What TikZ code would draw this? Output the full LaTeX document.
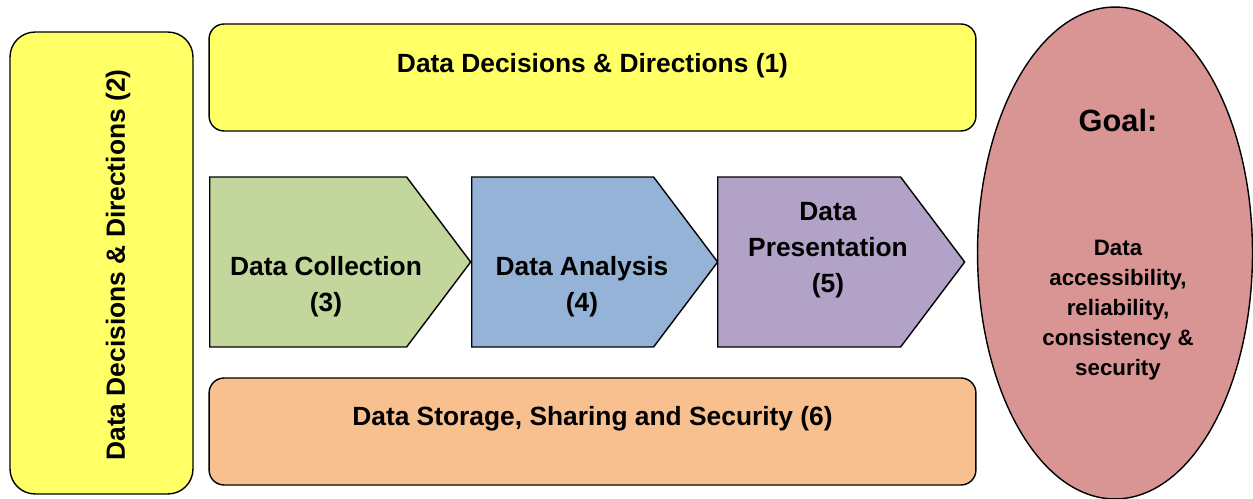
\documentclass[tikz,border=0pt]{standalone}
\usepackage{fontspec}
\setmainfont{Liberation Sans}
\usetikzlibrary{shapes.geometric,shapes.symbols}

\definecolor{ddyellow}{HTML}{FFFF66}
\definecolor{ddorange}{HTML}{F9C08F}
\definecolor{ddgreen}{HTML}{C3D69B}
\definecolor{ddblue}{HTML}{95B3D7}
\definecolor{ddpurple}{HTML}{B2A2C7}
\definecolor{ddred}{HTML}{D99594}

\begin{document}
\begin{tikzpicture}[x=0.02cm,y=-0.02cm,line width=0.8pt]
    % `panel' is used for the rounded boxes round the process.
    % `stage' is used for the three process arrows.
    % `txt' is used for all the bold captions.
    \tikzstyle{panel} = [draw,rounded corners=3mm,inner sep=0pt]
    \tikzstyle{stage} = [draw,shape=signal,signal to=east,signal pointer angle=106,inner sep=0pt,minimum height=3.4cm,anchor=west]
    \tikzstyle{txt} = [font=\bfseries\fontsize{15}{20.4}\selectfont,align=center]
    %
    \useasboundingbox (0,0) rectangle (1253,499);

    % Side and horizontal panels.
    \node[panel,fill=ddyellow,rounded corners=5mm,minimum width=3.66cm,minimum height=9.24cm] (side) at (101.5,263) {};
    \node[txt,rotate=90] (sidetext) at (118,265) {Data Decisions \& Directions (2)};
    \node[panel,fill=ddyellow,minimum width=15.34cm,minimum height=2.14cm] (top) at (592.5,77.5) {};
    \node[txt] (toptext) at (592.5,66) {Data Decisions \& Directions (1)};
    \node[panel,fill=ddorange,minimum width=15.34cm,minimum height=2.14cm] (bottom) at (592.5,431.5) {};
    \node[txt] (bottomtext) at (592.5,419) {Data Storage, Sharing and Security (6)};

    % Process arrows.
    \node[stage,fill=ddgreen,minimum width=5.22cm] (collect) at (209,262) {};
    \node[stage,fill=ddblue,minimum width=4.92cm] (analyse) at (471,262) {};
    \node[stage,fill=ddpurple,minimum width=4.94cm] (present) at (717,262) {};
    \node[txt] (collecttext) at (326,287) {Data Collection\\(3)};
    \node[txt] (analysetext) at (582,287) {Data Analysis\\(4)};
    \node[txt] (presenttext) at (828,250) {Data\\Presentation\\(5)};

    % Goal.
    \node[draw,ellipse,fill=ddred,minimum width=5.5cm,minimum height=9.84cm,inner sep=0pt] (goal) at (1115,253) {};
    \node[font=\bfseries\fontsize{17.5}{21}\selectfont] (goalhead) at (1118,121) {Goal:};
    \node[font=\bfseries\fontsize{12.7}{17}\selectfont,align=center] (goaltext) at (1118,310) {Data\\accessibility,\\reliability,\\consistency \&\\security};
\end{tikzpicture}
\end{document}
